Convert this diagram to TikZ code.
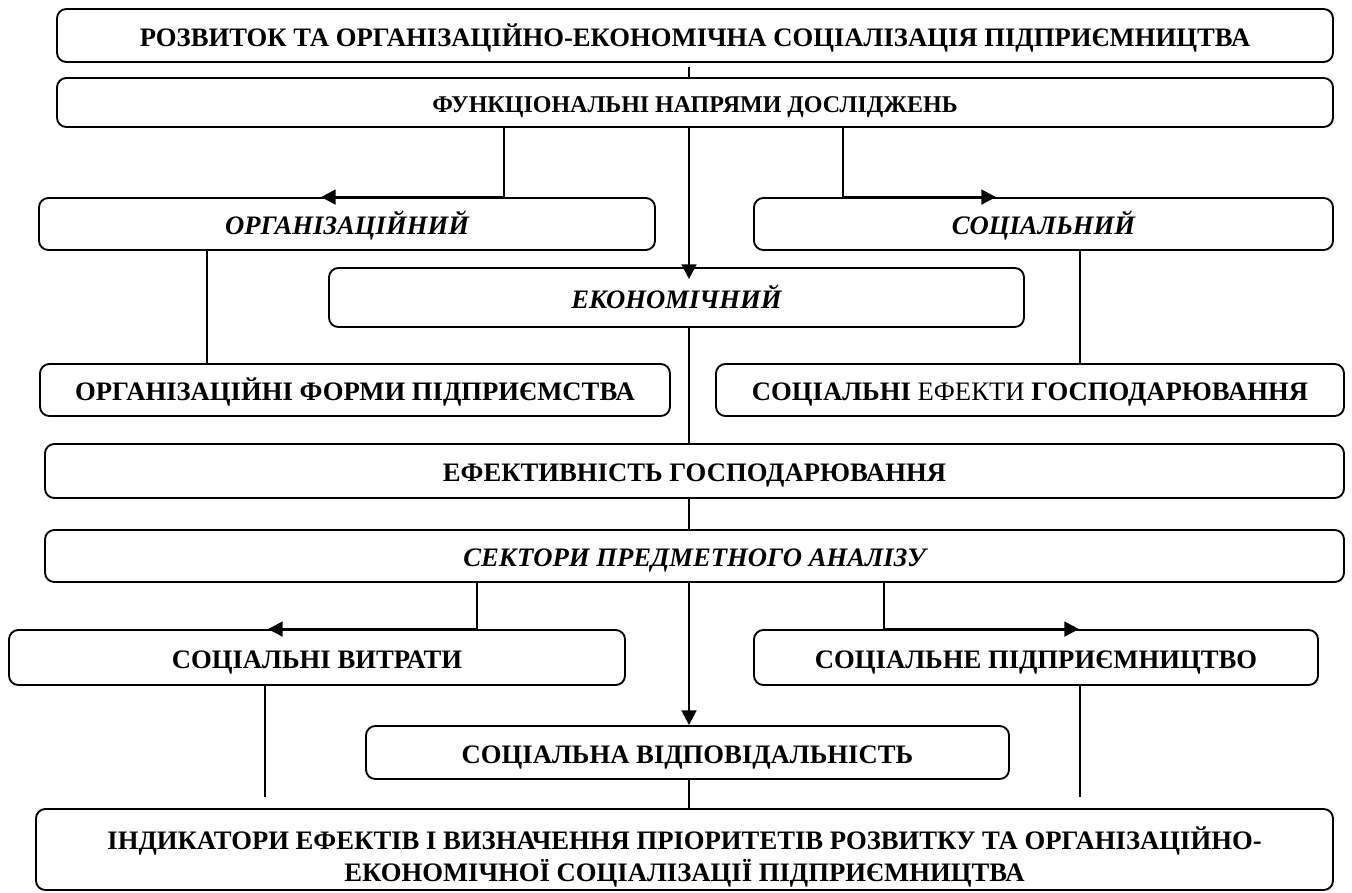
\documentclass[tikz,border=0pt]{standalone}
\usepackage{fontspec}
\setmainfont{Liberation Serif}
\usetikzlibrary{arrows.meta}

\tikzset{every picture/.style={line width=0.75pt}}
\tikzset{
  box/.style={draw, rounded corners=7pt, line width=1.4pt, inner sep=0pt, align=center,
    text height=16pt, text depth=0pt, font=\fontsize{20}{24}\selectfont\bfseries},
  italbox/.style={box, font=\fontsize{20}{24}\selectfont\bfseries\itshape},
  thinline/.style={line width=1.1pt},
  branch/.style={line width=2pt, -{Triangle[length=11pt,width=11pt]}},
}

\begin{document}
\begin{tikzpicture}[x=0.75pt,y=0.75pt,yscale=-1,xscale=1]
\useasboundingbox (0,0) rectangle (1352,892);

% Rounded Rect
\node [box, minimum width=957pt, minimum height=39.75pt] (top) at (695,35.5) {РОЗВИТОК ТА ОРГАНІЗАЦІЙНО-ЕКОНОМІЧНА СОЦІАЛІЗАЦІЯ ПІДПРИЄМНИЦТВА};
% Rounded Rect
\node [box, minimum width=957pt, minimum height=36.75pt, text height=14.5pt, font=\fontsize{18}{22}\selectfont\bfseries] (napr) at (695,102.5) {ФУНКЦІОНАЛЬНІ НАПРЯМИ ДОСЛІДЖЕНЬ};
% Rounded Rect
\node [italbox, minimum width=462pt, minimum height=39pt] (org) at (347,224) {ОРГАНІЗАЦІЙНИЙ};
% Rounded Rect
\node [italbox, minimum width=434.25pt, minimum height=39pt] (soc) at (1043.5,224) {СОЦІАЛЬНИЙ};
% Rounded Rect
\node [italbox, minimum width=521.25pt, minimum height=44.25pt] (econ) at (676.5,297.5) {ЕКОНОМІЧНИЙ};
% Rounded Rect
\node [box, minimum width=472.5pt, minimum height=39pt] (forms) at (355,390) {ОРГАНІЗАЦІЙНІ ФОРМИ ПІДПРИЄМСТВА};
% Rounded Rect
\node [box, minimum width=471pt, minimum height=39pt] (effects) at (1030,390) {СОЦІАЛЬНІ \textmd{ЕФЕКТИ} ГОСПОДАРЮВАННЯ};
% Rounded Rect
\node [box, minimum width=974.25pt, minimum height=40.5pt] (effic) at (694.5,471) {ЕФЕКТИВНІСТЬ ГОСПОДАРЮВАННЯ};
% Rounded Rect
\node [italbox, minimum width=974.25pt, minimum height=39pt] (sect) at (694.5,556) {СЕКТОРИ ПРЕДМЕТНОГО АНАЛІЗУ};
% Rounded Rect
\node [box, minimum width=462pt, minimum height=41.25pt] (costs) at (317,657.5) {СОЦІАЛЬНІ ВИТРАТИ};
% Rounded Rect
\node [box, minimum width=482.25pt, minimum height=39.75pt] (resp) at (687.5,752.5) {СОЦІАЛЬНА ВІДПОВІДАЛЬНІСТЬ};
% Rounded Rect
\node [box, minimum width=423pt, minimum height=41.25pt] (socent) at (1036,657.5) {СОЦІАЛЬНЕ ПІДПРИЄМНИЦТВО};
% Rounded Rect
\node [box, minimum width=972.75pt, minimum height=60.75pt, text height=48pt] (indic) at (684.5,849.5) {ІНДИКАТОРИ ЕФЕКТІВ І ВИЗНАЧЕННЯ ПРІОРИТЕТІВ РОЗВИТКУ ТА ОРГАНІЗАЦІЙНО-\\ЕКОНОМІЧНОЇ СОЦІАЛІЗАЦІЇ ПІДПРИЄМНИЦТВА};

% x positions of the connectors
\coordinate (spine) at (689,0);
\coordinate (fork1) at (504,0);
\coordinate (tip1) at (321,0);
\coordinate (fork2) at (843,0);
\coordinate (tip2) at (996,0);
\coordinate (fork3) at (477,0);
\coordinate (tip3) at (268,0);
\coordinate (fork4) at (884,0);
\coordinate (tip4) at (1079,0);
\coordinate (leftdrop) at (207,0);
\coordinate (rightdrop) at (1080,0);
\coordinate (costdrop) at (265,0);

%Straight Lines
\draw [thinline, shorten <=3pt] (top.south -| spine) -- (napr.north -| spine);
%Straight Lines
\draw [branch] (napr.south -| fork1) |- (org.north -| tip1);
\draw [branch, shorten >=-9pt] (napr.south -| spine) -- (econ.north -| spine);
\draw [branch] (napr.south -| fork2) |- (soc.north -| tip2);
%Straight Lines
\draw [thinline] (org.south -| leftdrop) -- (forms.north -| leftdrop);
\draw [thinline] (soc.south -| rightdrop) -- (effects.north -| rightdrop);
\draw [thinline] (econ.south -| spine) -- (effic.north -| spine);
\draw [thinline] (effic.south -| spine) -- (sect.north -| spine);
%Straight Lines
\draw [branch] (sect.south -| fork3) |- (costs.north -| tip3);
\draw [branch] (sect.south -| spine) -- (resp.north -| spine);
\draw [branch] (sect.south -| fork4) |- (socent.north -| tip4);
%Straight Lines
\draw [thinline, shorten >=8pt] (costs.south -| costdrop) -- (indic.north -| costdrop);
\draw [thinline, shorten >=8pt] (socent.south -| rightdrop) -- (indic.north -| rightdrop);
\draw [thinline] (resp.south -| spine) -- (indic.north -| spine);

\end{tikzpicture}
\end{document}
